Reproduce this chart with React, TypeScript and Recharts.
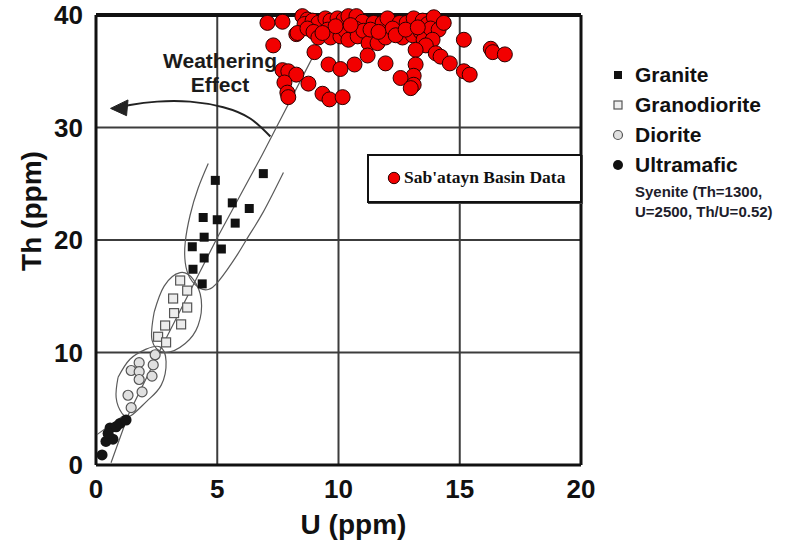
import React from "react";
import {
  CartesianGrid,
  Label,
  ReferenceLine,
  Scatter,
  ScatterChart,
  XAxis,
  YAxis,
} from "recharts";

type Pair = [number, number]; // [U ppm, Th ppm]

const uTicks = [0, 5, 10, 15, 20];
const thTicks = [0, 10, 20, 30, 40];

const granite: Pair[] = [
  [4.92, 25.3], [6.9, 25.9], [5.62, 23.3], [6.32, 22.8], [4.42, 22.0],
  [5.0, 21.8], [5.74, 21.5], [4.46, 20.25], [3.97, 19.4], [5.17, 19.2],
  [4.46, 18.4], [4.0, 17.4], [4.38, 16.1],
];

const granodiorite: Pair[] = [
  [3.47, 16.4], [3.76, 15.5], [3.18, 14.8], [3.76, 14.0], [3.22, 13.5],
  [3.51, 12.5], [2.85, 12.4], [2.56, 11.4], [2.89, 10.9],
];

const diorite: Pair[] = [
  [2.44, 9.8], [1.78, 9.1], [2.36, 8.9], [1.45, 8.4], [1.78, 8.3],
  [2.31, 7.9], [1.78, 7.6], [1.9, 6.5], [1.32, 6.2], [1.45, 5.1],
];

const ultramafic: Pair[] = [
  [0.25, 0.9], [0.41, 2.1], [0.7, 2.3], [0.58, 3.3], [0.83, 3.4],
  [0.99, 3.7], [1.24, 4.0], [0.5, 2.8],
];

const sabatayn: Pair[] = [
  [7.07, 39.3], [7.69, 39.4], [7.31, 37.3], [8.26, 38.3], [7.69, 35.1],
  [7.93, 35.0], [8.26, 34.7], [7.77, 34.0], [7.89, 33.1], [7.93, 32.7],
  [8.76, 33.9], [9.01, 36.7], [9.34, 33.0], [9.63, 32.5], [10.17, 32.7],
  [9.59, 35.6], [10.08, 35.2], [10.66, 35.6],
  [8.51, 39.9], [8.72, 39.6], [8.6, 39.2], [8.93, 39.5], [9.17, 39.3],
  [9.46, 39.7], [9.67, 39.5], [9.96, 39.7], [10.21, 39.6], [10.41, 39.9],
  [10.74, 39.9], [10.99, 39.4], [11.45, 39.3], [11.82, 39.3], [12.02, 39.7],
  [12.52, 39.3], [12.81, 39.3], [13.1, 39.7], [13.47, 39.5], [13.68, 39.2],
  [13.93, 39.8],
  [8.31, 38.4], [8.72, 38.8], [8.97, 38.5], [9.17, 38.0], [9.55, 38.7],
  [9.67, 38.0], [10.08, 38.1], [10.29, 38.6], [10.41, 37.8], [10.7, 38.8],
  [10.79, 38.1], [11.03, 38.6], [11.24, 37.5], [11.61, 37.5], [11.94, 38.0],
  [12.64, 38.0], [13.06, 38.2], [13.39, 38.5], [13.51, 37.8], [13.8, 38.8],
  [14.13, 38.7], [13.88, 37.8], [13.6, 37.3], [13.18, 36.9], [15.17, 37.8],
  [9.88, 39.0], [10.5, 39.1], [12.23, 38.8], [9.34, 38.4], [11.32, 38.7],
  [11.65, 38.5], [12.36, 38.2], [12.77, 38.7], [13.27, 38.9], [14.34, 39.3],
  [11.2, 36.4], [11.94, 35.7], [14.01, 36.6], [14.21, 36.3], [14.59, 35.7],
  [13.18, 35.6], [13.1, 34.6], [12.56, 34.4], [13.1, 33.8], [12.98, 33.5],
  [15.17, 35.0], [15.41, 34.7], [16.28, 37.0], [16.36, 36.7], [16.86, 36.5],
];

// field outlines and guide lines
const graniteField: Pair[] = [
  [4.63, 26.8], [4.21, 24.6], [3.88, 22.2], [3.68, 19.8], [3.68, 18.0],
  [3.88, 16.6], [4.3, 15.7], [4.63, 15.6], [5.04, 16.3], [5.83, 18.7],
  [6.28, 20.3], [6.9, 22.5], [7.73, 26.0],
];
const granodioriteField: Pair[] = [
  [2.4, 13.6], [2.81, 15.9], [3.47, 17.1], [4.01, 16.5], [4.34, 14.7],
  [4.21, 12.4], [3.68, 10.8], [2.85, 10.0], [2.31, 11.1], [2.4, 13.6],
];
const dioriteField: Pair[] = [
  [0.91, 7.8], [1.4, 9.4], [2.07, 10.3], [2.64, 10.5], [2.89, 9.2],
  [2.69, 7.1], [2.11, 5.7], [1.45, 4.4], [1.07, 4.6], [0.83, 6.0], [0.91, 7.8],
];
const ultramaficEdge: Pair[] = [[0.04, 2.7], [1.07, 4.3]];
const trendLine: Pair[] = [
  [0.62, 0.2], [1.32, 4.4], [2.64, 10.2], [5.0, 20.2], [6.86, 27.6], [9.09, 36.9],
];
const weatheringPath: Pair[] = [
  [7.19, 29.2], [6.36, 30.8], [5.25, 31.8], [3.88, 32.3], [2.52, 32.3],
  [1.4, 32.0], [1.1, 31.85],
];
const arrowHead: Pair[] = [[0.6, 31.7], [1.32, 32.45], [1.26, 31.05]];

const sans = "'Liberation Sans', Arial, Helvetica, sans-serif";
const serif = "'Liberation Serif', 'Times New Roman', serif";

const pts = (pairs: Pair[]) => pairs.map(([u, th]) => ({ u, th }));

const NoMark = () => <g />;

const BlackSquare = (p: any) => (
  <rect x={p.cx - 4.5} y={p.cy - 4.5} width={9} height={9} fill="#111" />
);
const OpenSquare = (p: any) => (
  <rect x={p.cx - 4.5} y={p.cy - 4.5} width={9} height={9} fill="#ececec" stroke="#555" strokeWidth={1.2} />
);
const GreyCircle = (p: any) => (
  <circle cx={p.cx} cy={p.cy} r={5} fill="#e0e0e0" stroke="#555" strokeWidth={1.2} />
);
const BlackCircle = (p: any) => <circle cx={p.cx} cy={p.cy} r={5.5} fill="#151515" />;
const RedDot = (p: any) => (
  <circle cx={p.cx} cy={p.cy} r={7.5} fill="#f20000" stroke="#2a0000" strokeWidth={1} />
);

const outline = { stroke: "#5a5a5a", strokeWidth: 1.2 };

const legendRows = [
  { name: "Granite", y: 75 },
  { name: "Granodiorite", y: 105 },
  { name: "Diorite", y: 135 },
  { name: "Ultramafic", y: 165 },
];

const LegendMark = ({ i }: { i: number }) => (
  <svg width={14} height={14} style={{ position: "absolute", left: -24, top: 5 }}>
    {i === 0 && <rect x={3} y={3} width={8} height={8} fill="#111" />}
    {i === 1 && <rect x={3} y={3} width={8} height={8} fill="#eee" stroke="#555" strokeWidth={1.2} />}
    {i === 2 && <circle cx={7} cy={7} r={4.5} fill="#e0e0e0" stroke="#555" strokeWidth={1.2} />}
    {i === 3 && <circle cx={7} cy={7} r={5} fill="#111" />}
  </svg>
);

export default function App() {
  return (
    <div style={{ position: "absolute", left: 0, top: 0, width: 791, height: 545, background: "#fff" }}>
      <ScatterChart width={791} height={545} margin={{ top: 15, right: 210, bottom: 0, left: 0 }}>
        <CartesianGrid stroke="#3c3c3c" strokeWidth={2} />
        <XAxis
          type="number"
          dataKey="u"
          domain={[0, 20]}
          ticks={uTicks}
          height={80}
          tickSize={0}
          tickMargin={15}
          tickLine={false}
          axisLine={{ stroke: "#111", strokeWidth: 3 }}
          tick={{ fill: "#111", fontSize: 26, fontWeight: 700, fontFamily: sans }}
        >
          <Label
            content={({ viewBox }: any) => (
              <text
                x={viewBox.x + viewBox.width / 2 + 15}
                y={524}
                textAnchor="middle"
                dominantBaseline="central"
                fontFamily={sans}
                fontWeight={700}
                fontSize={28}
                fill="#111"
              >
                U (ppm)
              </text>
            )}
          />
        </XAxis>
        <YAxis
          type="number"
          dataKey="th"
          domain={[0, 40]}
          ticks={thTicks}
          width={96}
          tickSize={0}
          tickMargin={13}
          tickLine={false}
          axisLine={{ stroke: "#111", strokeWidth: 3 }}
          tick={{ fill: "#111", fontSize: 26, fontWeight: 700, fontFamily: sans }}
        >
          <Label
            content={() => (
              <text
                x={31}
                y={211}
                transform="rotate(-90 31 211)"
                textAnchor="middle"
                dominantBaseline="central"
                fontFamily={sans}
                fontWeight={700}
                fontSize={28}
                fill="#111"
              >
                Th (ppm)
              </text>
            )}
          />
        </YAxis>
        <ReferenceLine y={40} stroke="#111" strokeWidth={4} />
        <ReferenceLine x={20} stroke="#111" strokeWidth={3} />

        <Scatter data={pts(trendLine)} line={outline} shape={NoMark} isAnimationActive={false} />
        <Scatter data={pts(graniteField)} line={outline} lineJointType="natural" shape={NoMark} isAnimationActive={false} />
        <Scatter data={pts(granodioriteField)} line={outline} lineJointType="natural" shape={NoMark} isAnimationActive={false} />
        <Scatter data={pts(dioriteField)} line={outline} lineJointType="natural" shape={NoMark} isAnimationActive={false} />
        <Scatter data={pts(ultramaficEdge)} line={outline} shape={NoMark} isAnimationActive={false} />
        <Scatter
          data={pts(weatheringPath)}
          line={{ stroke: "#222", strokeWidth: 2 }}
          lineJointType="natural"
          shape={NoMark}
          isAnimationActive={false}
        />
        <Scatter
          data={pts(arrowHead)}
          line={{ stroke: "#222", strokeWidth: 1, fill: "#222" }}
          lineJointType="linearClosed"
          shape={NoMark}
          isAnimationActive={false}
        />

        <Scatter data={pts(granite)} shape={BlackSquare} isAnimationActive={false} />
        <Scatter data={pts(granodiorite)} shape={OpenSquare} isAnimationActive={false} />
        <Scatter data={pts(diorite)} shape={GreyCircle} isAnimationActive={false} />
        <Scatter data={pts(ultramafic)} shape={BlackCircle} isAnimationActive={false} />
        <Scatter data={pts(sabatayn)} shape={RedDot} isAnimationActive={false} />
      </ScatterChart>

      {/* weathering note */}
      <div
        style={{
          position: "absolute",
          left: 148,
          top: 49,
          width: 144,
          textAlign: "center",
          fontFamily: sans,
          fontWeight: 700,
          fontSize: 21,
          lineHeight: "24px",
          color: "#1b1b1b",
        }}
      >
        Weathering
        <br />
        Effect
      </div>

      {/* rock-type key */}
      {legendRows.map((row, i) => (
        <div
          key={row.name}
          style={{
            position: "absolute",
            left: 635,
            top: row.y - 12,
            fontFamily: sans,
            fontWeight: 700,
            fontSize: 21,
            lineHeight: "24px",
            color: "#111",
            whiteSpace: "nowrap",
          }}
        >
          <LegendMark i={i} />
          {row.name}
        </div>
      ))}
      <div
        style={{
          position: "absolute",
          left: 635,
          top: 182,
          fontFamily: sans,
          fontWeight: 700,
          fontSize: 15,
          lineHeight: "20px",
          color: "#1d1d2b",
          whiteSpace: "nowrap",
        }}
      >
        Syenite (Th=1300,
        <br />
        U=2500, Th/U=0.52)
      </div>

      {/* basin data key */}
      <div
        style={{
          position: "absolute",
          left: 367,
          top: 154,
          width: 211,
          height: 45,
          border: "2px solid #111",
          background: "#fff",
          boxShadow: "1px 1px 0 #444",
          fontFamily: serif,
          fontWeight: 700,
          fontSize: 17.5,
          color: "#111",
        }}
      >
        <svg width={14} height={14} style={{ position: "absolute", left: 18, top: 15 }}>
          <circle cx={7} cy={7} r={5.7} fill="#f20000" stroke="#2a0000" strokeWidth={1} />
        </svg>
        <span style={{ position: "absolute", left: 35, top: 11, whiteSpace: "nowrap" }}>
          Sab'atayn Basin Data
        </span>
      </div>
    </div>
  );
}
